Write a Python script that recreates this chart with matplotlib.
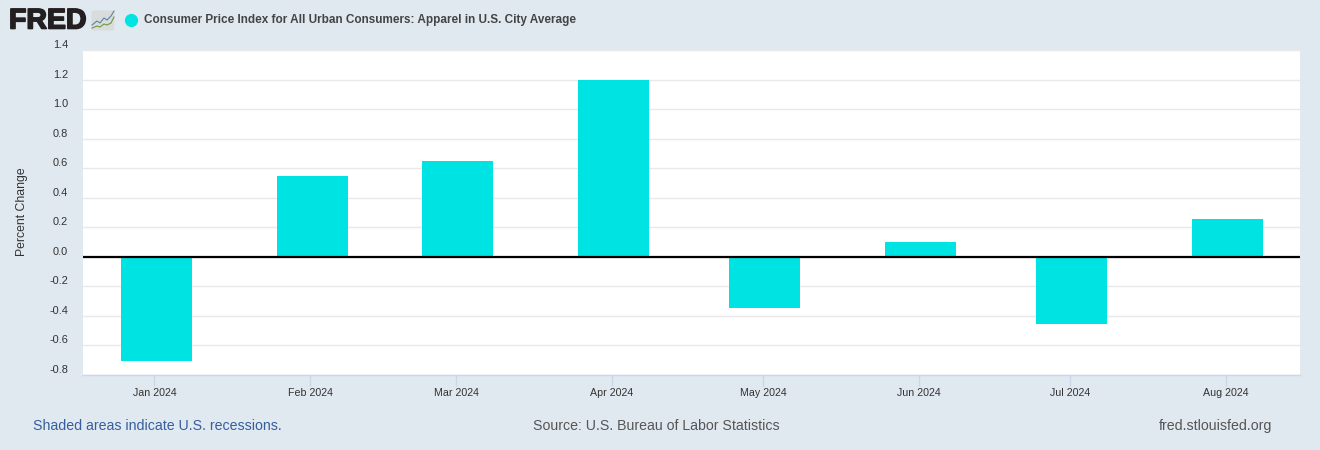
import matplotlib
matplotlib.use("Agg")
import matplotlib.pyplot as plt
import matplotlib.dates as mdates
import matplotlib.patheffects as pe
from matplotlib.patches import FancyBboxPatch
from datetime import date

plt.rcParams['font.family'] = ['Liberation Sans', 'DejaVu Sans']

months = [date(2024, m, 1) for m in range(1, 9)]
month_labels = ['Jan 2024', 'Feb 2024', 'Mar 2024', 'Apr 2024', 'May 2024', 'Jun 2024', 'Jul 2024', 'Aug 2024']
values = [-0.705, 0.55, 0.65, 1.20, -0.345, 0.10, -0.455, 0.255]
y_ticks = [-0.8, -0.6, -0.4, -0.2, 0.0, 0.2, 0.4, 0.6, 0.8, 1.0, 1.2, 1.4]
title = 'Consumer Price Index for All Urban Consumers: Apparel in U.S. City Average'

BG = '#e1e9f0'
BAR = '#00e3e3'
W, H = 1320, 450
TOP, BOTTOM = 50, 375

fig = plt.figure(figsize=(W / 100, H / 100), dpi=100, facecolor=BG)
ax = fig.add_axes([83 / W, 1 - BOTTOM / H, (1300 - 83) / W, (BOTTOM - TOP) / H])
ax.set_facecolor('white')

x = mdates.date2num(months)
ax.bar(x, values, width=14.1, color=BAR, zorder=3)
ax.axhline(0, color='black', lw=1.6, zorder=4)

ax.set_xlim(x[0] - 14.55, x[-1] + 14.45)
ax.set_ylim(-0.8, 1.4)
ax.set_yticks(y_ticks)
ax.set_yticklabels([])
# the ticks sit slightly left of the bar centres in the reference
ax.set_xticks(x - 0.35)
ax.set_xticklabels(month_labels, fontsize=7.7, color='#333333')
ax.tick_params(axis='x', length=8, width=1, color='#ccd6eb', pad=1)
ax.tick_params(axis='y', length=0)
ax.grid(axis='y', color='#e9e9e9', lw=1, zorder=0)
ax.set_axisbelow(True)
for s in ('top', 'left', 'right'):
    ax.spines[s].set_visible(False)
ax.spines['bottom'].set_color('#ccd6eb')
ax.spines['bottom'].set_linewidth(1)


def px(xp, yp):
    return xp / W, 1 - yp / H


# y tick labels sit above their gridlines
for v in y_ticks:
    yp = BOTTOM - (v + 0.8) / 2.2 * (BOTTOM - TOP)
    fig.text(*px(68, yp - 5), f'{v:.1f}', ha='right', va='center', fontsize=7.9, color='#333333')

fig.text(*px(22, 212), 'Percent Change', rotation=90, ha='center', va='center', fontsize=8.8, color='#333333')

# header
fig.text(*px(9, 21.5), 'FRED', ha='left', va='center', fontsize=20.5, fontweight='bold', color='#231f20',
         path_effects=[pe.withStroke(linewidth=1.2, foreground='#231f20')])
icon = fig.add_axes([91 / W, 1 - 31 / H, 24 / W, 21 / H])
icon.set_xlim(0, 24)
icon.set_ylim(0, 21)
icon.axis('off')
icon.add_patch(FancyBboxPatch((0.5, 0.5), 23, 20, boxstyle='round,pad=0,rounding_size=2', fc='#d8dcdc', ec='none'))
icon.plot([1, 6, 9, 13, 16, 20, 23], [6, 10, 8, 13, 11, 15, 20], color='#5b84a8', lw=0.8)
icon.plot([1, 6, 9, 13, 16, 20, 23], [3, 5, 4, 7, 6, 8, 14], color='#6f9a3c', lw=0.8)

fig.add_artist(plt.Line2D([131 / W], [1 - 19.5 / H], transform=fig.transFigure, marker='o', ms=9.5,
                          mfc=BAR, mec='none', ls='none'))
fig.text(*px(144, 20), title, ha='left', va='center', fontsize=8.45, fontweight='bold', color='#444444')

# footer
fig.text(*px(33, 425.5), 'Shaded areas indicate U.S. recessions.', ha='left', va='center', fontsize=10.15, color='#355e9c')
fig.text(*px(656, 425.5), 'Source: U.S. Bureau of Labor Statistics', ha='center', va='center', fontsize=10.15, color='#555555')
fig.text(*px(1272, 426), 'fred.stlouisfed.org', ha='right', va='center', fontsize=10.15, color='#555555')

fig.savefig('out.png', dpi=100, facecolor=BG)
